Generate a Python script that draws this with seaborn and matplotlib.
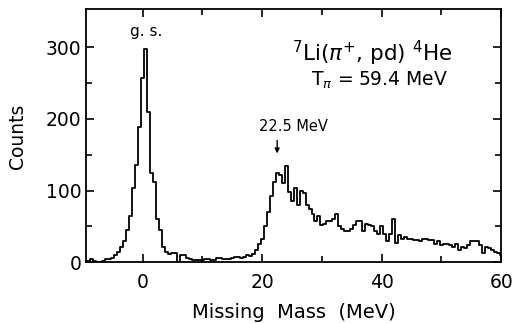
import numpy as np
import pandas as pd
import matplotlib
matplotlib.use("Agg")
import matplotlib.pyplot as plt
import seaborn as sns

# ---- data ----
bin_width = 0.5
missing_mass = np.arange(-9.5, 60.01, bin_width)   # bin centres (MeV)
counts = [
    2, 2, 4, 2, 1, 1, 2, 4, 5, 6,            # -9.5 .. -5.0
    10, 14, 22, 29, 45, 64, 104, 136, 189, 257,  # -4.5 .. 0.0
    297, 210, 124, 112, 60, 45, 22, 15, 12, 13,  # 0.5 .. 5.0
    13, 1, 10, 10, 6, 4, 3, 3, 3, 3,         # 5.5 .. 10.0
    5, 5, 3, 3, 6, 6, 4, 4, 4, 6,            # 10.5 .. 15.0
    7, 7, 6, 8, 10, 9, 12, 17, 26, 33,       # 15.5 .. 20.0
    50, 70, 92, 112, 125, 122, 110, 134, 98, 85,  # 20.5 .. 25.0
    103, 80, 100, 96, 80, 75, 68, 57, 64, 52,     # 25.5 .. 30.0
    54, 57, 57, 61, 68, 50, 47, 43, 43, 47,       # 30.5 .. 35.0
    52, 58, 58, 43, 54, 52, 50, 43, 40, 50,       # 35.5 .. 40.0
    40, 29, 40, 61, 27, 38, 33, 35, 33, 33,       # 40.5 .. 45.0
    31, 31, 29, 33, 33, 31, 31, 26, 29, 24,       # 45.5 .. 50.0
    26, 26, 24, 22, 26, 17, 22, 20, 24, 29,       # 50.5 .. 55.0
    29, 29, 24, 13, 22, 20, 17, 15, 13, 10,       # 55.5 .. 60.0
]
bin_edges = list(np.append(missing_mass - bin_width / 2,
                           missing_mass[-1] + bin_width / 2))

x_ticks = [0, 20, 40, 60]
y_ticks = [0, 100, 200, 300]
reaction_label = r"$^{7}$Li($\pi^{+}$, pd) $^{4}$He"
energy_label = r"T$_{\pi}$ = 59.4 MeV"
peak_label = "g. s."
state_label = "22.5 MeV"
state_energy = 22.5

df = pd.DataFrame({"mm": missing_mass, "counts": counts})

# ---- plot ----
sns.set_style("ticks")
plt.rcParams["font.family"] = ["DejaVu Sans"]
plt.rcParams["text.color"] = "black"
plt.rcParams["axes.labelcolor"] = "black"

fig = plt.figure(figsize=(5.13, 3.23), dpi=100)
ax = fig.add_axes([0.167, 0.188, 0.810, 0.783])

sns.histplot(data=df, x="mm", weights="counts", bins=bin_edges, element="step",
             fill=False, color="black", linewidth=1.3, ax=ax)

ax.set_xlim(-9.55, 60)
ax.set_ylim(0, 353)
ax.set_xticks(x_ticks)
ax.set_yticks(y_ticks)
ax.set_xticks([10, 30, 50], minor=True)
ax.set_yticks([50, 150, 250], minor=True)
ax.tick_params(which="both", direction="in", top=True, right=True,
               width=1.2, colors="black", labelsize=13.5)
ax.tick_params(axis="y", which="major", pad=3)
ax.tick_params(axis="x", which="major", pad=8)
ax.tick_params(which="major", length=6)
ax.tick_params(which="minor", length=4)
for s in ax.spines.values():
    s.set_linewidth(1.3)
    s.set_color("black")

ax.set_xlabel("Missing  Mass  (MeV)", fontsize=14, va="center")
ax.set_ylabel("Counts", fontsize=13.5, va="center")
ax.xaxis.set_label_coords(0.5, -0.200)
ax.yaxis.set_label_coords(-0.164, 0.5)

ax.text(0.6, 322, peak_label, ha="center", va="center", fontsize=11)
ax.text(38.4, 292, reaction_label, ha="center", va="center", fontsize=15.5)
ax.text(39.6, 254, energy_label, ha="center", va="center", fontsize=13.5)
ax.text(25.2, 189, state_label, ha="center", va="center", fontsize=10.5)
ax.annotate("", xy=(state_energy, 148), xytext=(state_energy, 174),
            arrowprops=dict(arrowstyle="-|>", color="black", lw=1.0,
                            mutation_scale=7))

fig.savefig("out.png", dpi=100)
